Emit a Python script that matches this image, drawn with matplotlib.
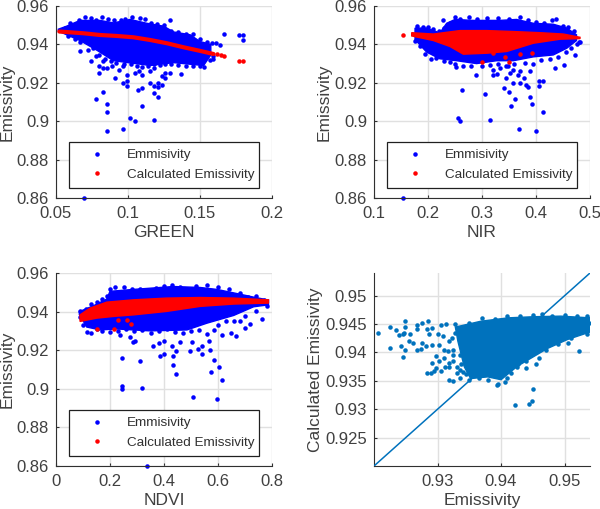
import matplotlib
matplotlib.use("Agg")
import matplotlib.pyplot as plt

plt.rcParams['font.family'] = ['Liberation Sans', 'DejaVu Sans']

BLUE = '#0000ff'
RED = '#ff0000'
MATLAB_BLUE = '#0072bd'
TEXT = '#404040'

# GREEN panel
green_top_x = [.0516, .0574, .0667, .0806, .0899, .1015, .113, .1247, .1316, .1432, .150, .1575]
green_top_y = [.9479, .9495, .9525, .9525, .9512, .9530, .9510, .9495, .9465, .9450, .9415, .9400]
green_low_x = [.1575, .1525, .1316, .1155, .0899, .0783, .0667, .0574, .0516]
green_low_y = [.9345, .9290, .9305, .9290, .9315, .9370, .9420, .9450, .9470]
green_out_x = [.0695, .0883, .0857, .0964, .1017, .1047, .1182, .0857, .0857, .0776, .0829, .11, .1209, .1182, .107,
               .11, .0992, .0992, .0964, .091, .0801, .0829, .0801, .0857, .0887, .0938, .0968, .0992, .105, .1073,
               .11, .1154, .1182, .1209, .1209, .1237, .1235, .1258, .1293, .1258, .1369, .1182, .1154, .0746, .0776,
               .0667, .072, .0829, .1666, .1773, .18, .18, .1641, .1611, .1293, .1587,
               .056, .06, .063, .066, .07, .074, .078, .082, .086, .09, .095, .098, .103, .108, .112, .116, .12, .125,
               .13, .135, .14, .145, .15, .155, .158,
               .058, .063, .067, .072, .076, .08, .084, .088, .092, .097, .102, .106, .11, .114, .118, .122, .126, .13,
               .135, .14, .145, .15, .153, .157, .159]
green_out_y = [.86, .8855, .8948, .896, .9016, .9, .9007, .9049, .909, .9115, .9153, .9077, .9125, .9146, .9163,
               .9172, .9184, .9207, .9198, .9224, .925, .9276, .9288, .9276, .9285, .9267, .9285, .9241, .925, .9259,
               .9241, .9201, .9184, .9198, .9177, .9186, .9233, .925, .925, .9224, .9246, .9276, .9259, .9314, .9337,
               .9366, .9371, .9311, .9453, .9451, .9447, .9425, .9397, .9409, .9527, .9323,
               .9485, .951, .9495, .9525, .9542, .9538, .9525, .9542, .953, .9525, .9525, .953, .9545, .954, .953, .951,
               .9505, .95, .947, .9465, .9455, .9455, .943, .941, .9405,
               .9445, .943, .9415, .941, .938, .9345, .9325, .9315, .9305, .9298, .93, .929, .928, .9285, .93, .9295,
               .93, .93, .9295, .9285, .929, .9285, .928, .932, .934]
green_calc_x = [.0523, .069, .0806, .0922, .1038, .1154, .127, .1386, .1502, .1594]
green_calc_y = [.9467, .9458, .9449, .9444, .9437, .9423, .9406, .9385, .9366, .935]
green_tail_x = [.1617, .1645, .1668, .1773, .18]
green_tail_y = [.9349, .9343, .9337, .9316, .9311]

# NIR panel
nir_top_x = [.176, .1975, .222, .2346, .25, .284, .333, .364, .395, .432, .457, .475]
nir_top_y = [.9485, .9485, .9460, .9510, .9530, .9525, .9525, .9530, .9510, .9505, .9485, .9450]
nir_low_x = [.475, .457, .432, .395, .358, .327, .29, .253, .222, .1975, .176]
nir_low_y = [.9420, .9380, .9345, .9335, .9315, .9315, .9300, .9315, .9325, .9360, .9425]
nir_out_x = [.1543, .4105, .3994, .3685, .2562, .2599, .3154, .4136, .3926, .3617, .3506, .3543, .3889, .3401, .263,
             .305, .4062, .4136, .4062, .3858, .3809, .3704, .358, .3438, .2883, .2519, .3778, .3889, .3673, .3519,
             .321, .3272, .4352, .4525, .4728, .4815, .321, .3333, .3488, .358, .3704, .2284,
             .18, .19, .2, .21, .22, .23, .24, .25, .26, .275, .29, .31, .33, .35, .37, .385, .4, .415, .43, .437, .45,
             .46, .47, .48,
             .175, .185, .195, .205, .215, .23, .24, .25, .265, .28, .3, .315, .33, .345, .36, .38, .395, .41, .425,
             .44, .455, .465, .475]
nir_out_y = [.86, .8857, .8948, .896, .9016, .9, .9007, .9049, .909, .9115, .9153, .9077, .9125, .9172, .9162,
             .9144, .9207, .9207, .9181, .9177, .9189, .9198, .9198, .9224, .9239, .9281, .9224, .9259, .9241, .925,
             .9241, .9246, .9276, .9293, .9345, .9411, .9267, .9276, .9285, .9267, .9259, .9527,
             .9495, .949, .949, .948, .947, .9485, .951, .9542, .953, .9542, .953, .9535, .9535, .953, .9542, .9525,
             .9515, .951, .9525, .953, .9495, .949, .947, .941,
             .942, .939, .935, .9325, .933, .9315, .931, .93, .929, .9285, .929, .9295, .93, .929, .93, .9305, .93,
             .932, .9325, .9335, .936, .938, .94]
nir_calc_top_x = [.1698, .21, .259, .3086, .358, .4074, .4506, .4815]
nir_calc_top_y = [.9461, .9454, .9472, .9472, .9467, .9461, .9454, .9437]
nir_calc_low_x = [.4815, .4444, .395, .3457, .3086, .2654, .2407, .21, .1698]
nir_calc_low_y = [.943, .9427, .9406, .9363, .9354, .9349, .9389, .942, .9444]
nir_calc_out_x = [.154, .30, .35, .343, .32, .37, .393]
nir_calc_out_y = [.9449, .931, .9308, .9335, .9355, .9352, .9357]

# NDVI panel
ndvi_top_x = [.0865, .1384, .188, .2, .287, .386, .435, .534, .596, .682, .732, .787]
ndvi_top_y = [.9400, .9430, .9465, .9505, .9515, .9525, .9530, .9525, .9515, .9490, .9475, .9460]
ndvi_low_x = [.787, .732, .658, .559, .485, .349, .225, .163, .114, .0865]
ndvi_low_y = [.9435, .9425, .9380, .9340, .9305, .9300, .9310, .9305, .9320, .9385]
ndvi_out_x = [.3362, .6045, .5958, .5056, .2447, .2447, .3201, .6143, .5735, .6032, .5859, .445, .4351, .3115, .2435,
              .3869, .4017, .4351, .4438, .4969, .5241, .5414, .5402, .5674, .5686, .2868, .293, .3585, .3832, .4005,
              .4289, .4598, .5031, .6143, .6477, .6675, .7009, .7169, .7639, .2373, .2744, .5834, .6823,
              .09, .11, .13, .15, .17, .19, .2, .22, .25, .28, .31, .34, .37, .4, .43, .46, .5, .52, .56, .6, .64, .68,
              .71, .74, .77,
              .09, .1, .115, .13, .15, .17, .2, .23, .26, .29, .32, .35, .38, .41, .44, .47, .5, .53, .56, .6, .63, .66,
              .7, .74, .78]
ndvi_out_y = [.86, .8853, .8947, .8959, .9014, .8999, .9006, .9045, .9087, .9111, .9151, .9075, .9123, .9142, .9158,
              .917, .9182, .9172, .9196, .9196, .9205, .9181, .9222, .9248, .9201, .9241, .9248, .9222, .9239, .9248,
              .9224, .9241, .9241, .9279, .9291, .9271, .9314, .9337, .9363, .9279, .9267, .9305, .9349,
              .9405, .9415, .944, .945, .9465, .948, .9515, .9525, .9525, .9515, .9515, .95, .952, .9535, .954, .953,
              .9515, .9535, .954, .9525, .9515, .9495, .9475, .948, .946,
              .937, .933, .9295, .929, .931, .93, .9295, .93, .931, .93, .9305, .929, .93, .931, .9295, .929, .93,
              .9305, .9285, .933, .935, .935, .9375, .9405, .943]
ndvi_calc_top_x = [.089, .126, .188, .287, .41, .534, .658, .787]
ndvi_calc_top_y = [.9383, .9418, .9449, .9461, .947, .9473, .947, .9461]
ndvi_calc_low_x = [.787, .658, .534, .41, .287, .213, .151, .089]
ndvi_calc_low_y = [.9444, .9439, .9427, .9401, .9383, .9375, .9366, .9349]
ndvi_calc_out_x = [.151, .2151, .2781, .2645, .2312]
ndvi_calc_out_y = [.9312, .9311, .9337, .9357, .9354]

# Emissivity vs calculated
scatter_top_x = [.9328, .9337, .9368, .9411, .9452, .9494, .954]
scatter_top_y = [.9445, .9447, .9455, .9461, .9463, .9464, .9461]
scatter_low_x = [.954, .9505, .9473, .9426, .94, .9379, .9352, .9342, .9332]
scatter_low_y = [.9436, .9423, .9407, .9376, .9352, .9357, .9354, .9375, .9420]
scatter_pts_x = [.9207, .9225, .9225, .9234, .924, .9245, .9249, .9249, .9248, .9242, .9249, .9246, .9255, .9262, .9257,
                 .9268, .9274, .9267, .9267, .9276, .9285, .9283, .9292, .9276, .9287, .9282, .9292, .9297, .9303, .9305,
                 .9313, .93, .9308, .9283, .9289, .9292, .9297, .9305, .9318, .9324, .931, .9318, .9331, .9337, .9316,
                 .9422, .9444, .9448, .945, .9394, .9406, .9415, .9426, .944, .9455, .9459, .9522, .9505, .9536, .9539,
                 .9328, .935, .937, .939, .941, .943, .945, .9465, .948, .95, .952, .9535,
                 .9535, .951, .949, .947, .9455, .944, .9425, .941, .9395, .938, .9365, .935, .9335, .9325, .9318,
                 .9325, .933, .934, .9335, .9325, .931, .9322, .9338, .9328, .9318, .9345, .9312, .9302, .9295, .9335]
scatter_pts_y = [.9435, .9445, .9407, .9439, .943, .9432, .9455, .9445, .9435, .9411, .9405, .9392, .942, .9417, .9432,
                 .9405, .9406, .9449, .9442, .9452, .9455, .9442, .9443, .9417, .9432, .9411, .9413, .9393, .9414, .9448,
                 .9451, .9432, .9429, .9363, .9364, .9381, .9373, .9367, .9352, .935, .939, .9381, .9364, .9379, .9402,
                 .9308, .931, .9315, .9336, .9343, .9348, .9363, .938, .9373, .9379, .939, .9402, .9417, .9461, .9452,
                 .9451, .9452, .946, .9459, .9464, .9464, .9466, .9468, .9465, .9466, .9465, .9464,
                 .9432, .9425, .9415, .9405, .94, .9385, .9375, .9355, .9345, .9352, .9355, .9352, .937, .9395, .942,
                 .9385, .9375, .9365, .9395, .9405, .9405, .9425, .941, .9435, .9375, .9362, .9375, .9385, .9368, .9355]
line_ends = [.92, .954]

green_ticks = [.05, .1, .15, .2]
nir_ticks = [.1, .2, .3, .4, .5]
ndvi_ticks = [0, .2, .4, .6, .8]
em_ticks = [.86, .88, .9, .92, .94, .96]
em_labels = ['0.86', '0.88', '0.9', '0.92', '0.94', '0.96']

fig = plt.figure(figsize=(6, 5.09), dpi=100)


def make_axes(left, top, ylabel_x, w=216, h=192):
    ax = fig.add_axes([left / 600, 1 - (top + h) / 509, w / 600, h / 509])
    ax.grid(True, color='#e0e0e0', lw=1)
    ax.set_axisbelow(True)
    ax.spines['top'].set_visible(False)
    ax.spines['right'].set_visible(False)
    ax.spines['left'].set_color('#303030')
    ax.spines['bottom'].set_color('#303030')
    ax.tick_params(direction='in', length=2, labelsize=12, labelcolor=TEXT, color='#303030')
    ax.tick_params(axis='x', pad=6)
    ax.tick_params(axis='y', pad=5)
    ax.yaxis.set_label_coords((ylabel_x - left) / w, .5)
    return ax


def band_panel(ax, top_x, top_y, low_x, low_y, out_x, out_y, xticks, xlabels, xlabel):
    ax.fill(top_x + low_x, top_y + low_y, color=BLUE, lw=1, zorder=2)
    ax.plot(out_x, out_y, '.', color=BLUE, ms=6.5, mew=0, label='Emmisivity', zorder=2, clip_on=False)
    ax.set_xlim(xticks[0], xticks[-1])
    ax.set_ylim(.86, .96)
    ax.set_xticks(xticks, xlabels)
    ax.set_yticks(em_ticks, em_labels)
    ax.set_xlabel(xlabel, fontsize=12.5, color=TEXT, labelpad=2.5)
    ax.set_ylabel('Emissivity', fontsize=12.5, color=TEXT)


def add_legend(ax):
    leg = ax.legend(loc='lower left', bbox_to_anchor=(.06, .052, .88, .19), mode='expand', fontsize=9.7,
                    fancybox=False, framealpha=1, edgecolor='#202020', handlelength=3.0, handletextpad=.75,
                    labelspacing=.5, borderaxespad=0, borderpad=.55, labelcolor='#303030')
    leg.get_frame().set_linewidth(.9)
    leg.set_zorder(5)


# top left
ax = make_axes(56, 6, 15)
band_panel(ax, green_top_x, green_top_y, green_low_x, green_low_y, green_out_x, green_out_y,
           green_ticks, ['0.05', '0.1', '0.15', '0.2'], 'GREEN')
ax.plot(green_calc_x, green_calc_y, '-', color=RED, lw=3, zorder=3, solid_capstyle='round')
ax.plot(green_tail_x, green_tail_y, '.', color=RED, ms=6.5, mew=0, label='Calculated Emissivity', zorder=3)
add_legend(ax)

# top right
ax = make_axes(374, 6, 332)
band_panel(ax, nir_top_x, nir_top_y, nir_low_x, nir_low_y, nir_out_x, nir_out_y,
           nir_ticks, ['0.1', '0.2', '0.3', '0.4', '0.5'], 'NIR')
ax.fill(nir_calc_top_x + nir_calc_low_x, nir_calc_top_y + nir_calc_low_y, color=RED, lw=1, zorder=3)
ax.plot(nir_calc_out_x, nir_calc_out_y, '.', color=RED, ms=6.5, mew=0, label='Calculated Emissivity', zorder=3)
add_legend(ax)

# bottom left
ax = make_axes(56, 273, 15, h=193)
band_panel(ax, ndvi_top_x, ndvi_top_y, ndvi_low_x, ndvi_low_y, ndvi_out_x, ndvi_out_y,
           ndvi_ticks, ['0', '0.2', '0.4', '0.6', '0.8'], 'NDVI')
ax.fill(ndvi_calc_top_x + ndvi_calc_low_x, ndvi_calc_top_y + ndvi_calc_low_y, color=RED, lw=1, zorder=3)
ax.plot(ndvi_calc_out_x, ndvi_calc_out_y, '.', color=RED, ms=6.5, mew=0, label='Calculated Emissivity', zorder=3)
add_legend(ax)

# bottom right
ax = make_axes(374, 273, 323, h=193)
ax.fill(scatter_top_x + scatter_low_x, scatter_top_y + scatter_low_y, color=MATLAB_BLUE, lw=1, zorder=2)
ax.plot(scatter_pts_x, scatter_pts_y, '.', color=MATLAB_BLUE, ms=6.5, mew=0, zorder=2)
ax.plot(line_ends, line_ends, '-', color=MATLAB_BLUE, lw=1.1, zorder=3)
ax.set_xlim(.92, .954)
ax.set_ylim(.92, .954)
ax.set_xticks([.93, .94, .95], ['0.93', '0.94', '0.95'])
ax.set_yticks([.925, .93, .935, .94, .945, .95], ['0.925', '0.93', '0.935', '0.94', '0.945', '0.95'])
ax.set_xlabel('Emissivity', fontsize=12.5, color=TEXT, labelpad=2.5)
ax.set_ylabel('Calculated Emissivity', fontsize=12.5, color=TEXT)

fig.savefig('out.png', dpi=100)
